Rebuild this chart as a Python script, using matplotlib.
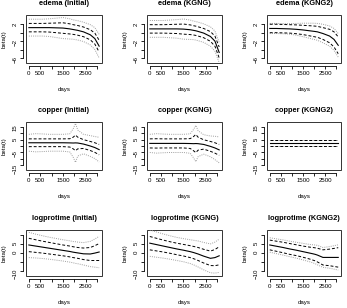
import numpy as np
import matplotlib
matplotlib.use("Agg")
import matplotlib.pyplot as plt
from matplotlib.patches import Rectangle

plt.rcParams['font.family'] = ['Liberation Sans', 'DejaVu Sans']

days = [0, 300, 600, 900, 1200, 1500, 1800, 1950, 2050, 2150, 2400, 2700, 2900, 3090]

# edema
edema_init = [1.2, 1.2, 1.2, 1.2, 1.15, 1.1, 0.9, 0.75, 0.65, 0.55, 0.2, -0.5, -1.4, -3.2]
edema_init_w1 = [1.0, 1.0, 1.0, 1.05, 1.15, 1.25, 1.2, 1.15, 1.15, 1.15, 1.15, 1.2, 1.3, 1.4]
edema_init_w2 = [2.0, 2.0, 2.0, 2.1, 2.3, 2.5, 2.4, 2.3, 2.3, 2.3, 2.3, 2.4, 2.6, 2.8]
edema_kgng = [0.9, 0.9, 0.9, 0.9, 0.9, 0.85, 0.7, 0.55, 0.45, 0.3, -0.1, -0.9, -2.0, -4.7]
edema_kgng_w1 = [1.0, 1.0, 1.0, 1.05, 1.1, 1.2, 1.15, 1.1, 1.1, 1.1, 1.1, 1.15, 1.2, 1.3]
edema_kgng_w2 = [2.0, 2.0, 2.0, 2.1, 2.2, 2.4, 2.3, 2.2, 2.2, 2.2, 2.2, 2.3, 2.4, 2.4]
edema_kgng2 = [1.0, 1.0, 0.95, 0.9, 0.8, 0.65, 0.45, 0.35, 0.28, 0.2, -0.2, -0.8, -1.6, -3.0]
edema_kgng2_w1 = [1.0, 1.0, 1.0, 1.0, 1.05, 1.1, 1.2, 1.25, 1.28, 1.3, 1.4, 1.6, 1.8, 2.0]
edema_kgng2_w2 = [1.2, 1.2, 1.2, 1.25, 1.4, 1.6, 1.8, 1.9, 1.95, 2.0, 2.2, 2.4, 2.6, 2.8]

# copper
copper_init = [2.5, 2.5, 2.5, 2.5, 2.5, 2.5, 2.4, 2.3, 2.4, 2.3, 1.5, 0.0, -1.2, -2.8]
copper_init_w1 = [3.0, 3.0, 3.0, 3.0, 3.0, 3.0, 3.2, 4.5, 6.0, 4.5, 3.4, 3.5, 3.7, 4.0]
copper_init_w2 = [6.5, 7.0, 6.8, 6.5, 6.5, 6.5, 7.0, 11.0, 15.0, 10.0, 7.5, 8.0, 8.5, 9.5]
copper_kgng = [2.0, 2.0, 2.0, 2.0, 2.0, 2.0, 1.9, 1.8, 1.9, 1.8, 1.2, -0.3, -1.5, -3.0]
copper_kgng_w1 = [3.5, 3.6, 3.5, 3.5, 3.5, 3.5, 3.8, 5.5, 7.0, 5.0, 3.6, 3.8, 4.0, 4.2]
copper_kgng_w2 = [7.0, 7.5, 7.2, 7.0, 7.0, 7.0, 7.5, 11.0, 14.0, 10.0, 7.5, 8.0, 9.0, 10.0]
copper_kgng2 = [2.3] * 14
copper_kgng2_w1 = [2.6] * 14
copper_kgng2_w2 = [2.5] * 14

# logprotime
logpro_init = [4.2, 3.6, 3.0, 2.4, 1.8, 1.2, 0.6, 0.2, 0.0, -0.2, -0.7, -0.8, -0.3, 0.3]
logpro_init_w1 = [3.7, 3.5, 3.3, 3.2, 3.1, 3.0, 3.0, 3.0, 3.0, 3.0, 3.2, 3.6, 4.1, 4.7]
logpro_init_w2 = [7.0, 6.6, 6.3, 6.1, 6.0, 5.9, 5.9, 5.9, 6.0, 6.0, 6.2, 7.0, 7.8, 8.7]
logpro_kgng = [5.2, 4.4, 3.6, 2.8, 2.0, 1.3, 0.5, 0.0, -0.4, -0.8, -2.0, -3.2, -2.8, -1.8]
logpro_kgng_w1 = [3.7, 3.5, 3.3, 3.2, 3.2, 3.2, 3.3, 3.4, 3.5, 3.6, 3.8, 4.0, 4.5, 5.0]
logpro_kgng_w2 = [7.3, 7.0, 6.7, 6.5, 6.4, 6.4, 6.6, 6.8, 7.0, 7.2, 7.6, 8.0, 8.6, 9.2]
logpro_kgng2 = [4.2, 3.5, 2.8, 2.0, 1.3, 0.5, -0.3, -0.7, -1.0, -1.4, -2.7, -2.7, -2.7, -2.7]
logpro_kgng2_w1 = [2.7, 2.8, 2.9, 3.0, 3.0, 3.1, 3.3, 3.5, 3.6, 3.8, 4.2, 4.6, 5.0, 5.4]
logpro_kgng2_w2 = [4.0, 4.1, 4.2, 4.3, 4.4, 4.6, 4.8, 5.0, 5.2, 5.4, 5.5, 6.0, 6.5, 7.0]

rows = ["edema", "copper", "logprotime"]
methods = ["Initial", "KGNG", "KGNG2"]
panels = [
    [(edema_init, edema_init_w1, edema_init_w2),
     (edema_kgng, edema_kgng_w1, edema_kgng_w2),
     (edema_kgng2, edema_kgng2_w1, edema_kgng2_w2)],
    [(copper_init, copper_init_w1, copper_init_w2),
     (copper_kgng, copper_kgng_w1, copper_kgng_w2),
     (copper_kgng2, copper_kgng2_w1, copper_kgng2_w2)],
    [(logpro_init, logpro_init_w1, logpro_init_w2),
     (logpro_kgng, logpro_kgng_w1, logpro_kgng_w2),
     (logpro_kgng2, logpro_kgng2_w1, logpro_kgng2_w2)],
]
ylims = [(-7.2, 4.2), (-18.5, 18.5), (-13, 12.5)]
yticks = [[-6, -4, -2, 0, 2], [-15, -10, -5, 0, 5, 10, 15], [-10, -5, 0, 5, 10]]
ylabs = [[-6, -2, 2], [-15, -5, 5, 15], [-10, 0, 5]]
xticks = [0, 500, 1000, 1500, 2000, 2500, 3000]
xlabs = [0, 500, 1500, 2500]

W, H = 347, 308
fig = plt.figure(figsize=(W / 100, H / 100), dpi=100)

col_x = [(26, 102), (147, 222), (267, 341)]
row_y = [(15, 63), (122, 170), (230, 276)]

x = np.array(days)
for i in range(3):
    for j in range(3):
        l, r = col_x[j]
        t, b = row_y[i]
        ax = fig.add_axes([l / W, 1 - b / H, (r - l) / W, (b - t) / H])
        beta, w1, w2 = [np.array(v) for v in panels[i][j]]
        ax.plot(x, beta + w2, ls=(0, (1, 1.2)), color='#a0a0a0', lw=0.7)
        ax.plot(x, beta - w2, ls=(0, (1, 1.2)), color='#a0a0a0', lw=0.7)
        ax.plot(x, beta + w1, ls=(0, (3, 2)), color='black', lw=0.7)
        ax.plot(x, beta - w1, ls=(0, (3, 2)), color='black', lw=0.7)
        ax.plot(x, beta, color='black', lw=0.8)
        ax.set_xlim(-125, 3215)
        ax.set_ylim(*ylims[i])
        ax.set_xticks(xticks)
        ax.set_xticklabels([str(v) if v in xlabs else '' for v in xticks])
        ax.set_yticks(yticks[i])
        ax.set_yticklabels([str(v).replace('-', '\u2212') if v in ylabs[i] else '' for v in yticks[i]])
        ax.tick_params(length=2.5, width=0.6, labelsize=4.4, pad=1.5)
        ax.tick_params(axis='y', labelrotation=90)
        for lbl in ax.get_yticklabels():
            lbl.set_va('center')
        # R style: axes detached slightly from the box
        ax.spines['top'].set_visible(False)
        ax.spines['right'].set_visible(False)
        ax.spines['bottom'].set_position(('outward', 2))
        ax.spines['left'].set_position(('outward', 2))
        ax.spines['bottom'].set_bounds(xticks[0], xticks[-1])
        ax.spines['left'].set_bounds(yticks[i][0], yticks[i][-1])
        for s in ax.spines.values():
            s.set_linewidth(0.6)
        ax.add_patch(Rectangle((0, 0), 1, 1, transform=ax.transAxes, fill=False,
                               lw=0.7, edgecolor='#333333', clip_on=False))
        ax.set_xlabel('days', fontsize=4.4)
        ax.xaxis.set_label_coords(0.5, -24 / (b - t))
        ax.set_ylabel('beta(t)', fontsize=4.4)
        ax.yaxis.set_label_coords(-19 / (r - l), 0.5)
        ax.set_title('%s (%s)' % (rows[i], methods[j]), fontsize=5.3,
                     fontweight='bold', pad=7)

fig.savefig('out.png', dpi=100)
